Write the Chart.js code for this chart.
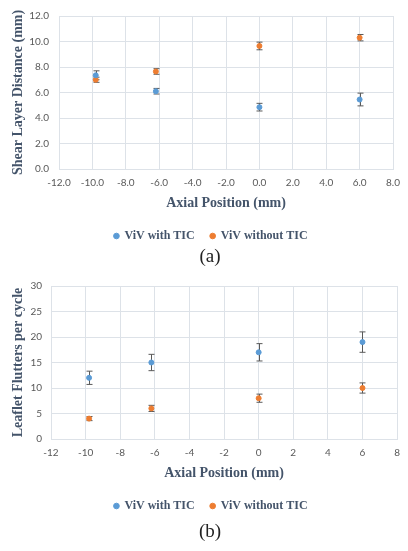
<!DOCTYPE html>
<html>
<head>
<meta charset="utf-8">
<script src="https://cdn.jsdelivr.net/npm/chart.js@4/dist/chart.umd.min.js"></script>
<style>
  body { margin: 0; background: #fff; width: 408px; height: 551px; position: relative; overflow: hidden; }
  canvas { position: absolute; left: 0; }
  .caption { position: absolute; left: 0; width: 420px; text-align: center; font-family: "Liberation Serif", "Times New Roman", serif; font-size: 19px; color: #222; }
</style>
</head>
<body>
<canvas id="shearChart" width="408" height="252" style="top:0"></canvas>
<div class="caption" style="top:245px">(a)</div>
<canvas id="flutterChart" width="408" height="252" style="top:270px"></canvas>
<div class="caption" style="top:520px">(b)</div>
<script>
// axial positions (mm)
const axialPos = [-9.8, -6.2, 0, 6];

// (a) shear layer distance (mm)
const shearWithTIC = [7.35, 6.1, 4.85, 5.45];
const shearWithTICErr = [0.35, 0.22, 0.3, 0.5];
const shearWithoutTIC = [7.0, 7.65, 9.65, 10.3];
const shearWithoutTICErr = [0.2, 0.22, 0.3, 0.25];

// (b) leaflet flutters per cycle
const flutterWithTIC = [12, 15, 17, 19];
const flutterWithTICErr = [1.3, 1.6, 1.7, 2.0];
const flutterWithoutTIC = [4, 6, 8, 10];
const flutterWithoutTICErr = [0.4, 0.6, 0.8, 1.0];

const seriesNames = ['ViV with TIC', 'ViV without TIC'];
const blue = '#5b9bd5';
const orange = '#ed7d31';
const titleColor = '#44546a';
const tickColor = '#595959';
const gridColor = '#dde2e8';
const serif = '"Liberation Serif", "Times New Roman", serif';

// draws vertical error bars with caps, using the chart's own scales
const errorBars = {
  id: 'errorBars',
  beforeDatasetsDraw(chart) {
    const ctx = chart.ctx;
    const xs = chart.scales.x, ys = chart.scales.y;
    ctx.save();
    ctx.strokeStyle = '#595959';
    ctx.lineWidth = 1;
    chart.data.datasets.forEach(ds => {
      ds.data.forEach((p, i) => {
        const e = ds.errors[i];
        const x = Math.round(xs.getPixelForValue(p.x)) + 0.5;
        const y1 = ys.getPixelForValue(p.y + e);
        const y2 = ys.getPixelForValue(p.y - e);
        ctx.beginPath();
        ctx.moveTo(x, y1); ctx.lineTo(x, y2);
        ctx.moveTo(x - 3, y1); ctx.lineTo(x + 3, y1);
        ctx.moveTo(x - 3, y2); ctx.lineTo(x + 3, y2);
        ctx.stroke();
      });
    });
    ctx.restore();
  }
};

function points(ys) {
  return axialPos.map((x, i) => ({ x: x, y: ys[i] }));
}

function makeChart(id, cfg) {
  return new Chart(document.getElementById(id), {
    type: 'scatter',
    data: {
      datasets: [{
        label: seriesNames[0],
        data: points(cfg.withTIC),
        errors: cfg.withTICErr,
        backgroundColor: blue,
        borderColor: blue,
        pointRadius: 2.5
      }, {
        label: seriesNames[1],
        data: points(cfg.withoutTIC),
        errors: cfg.withoutTICErr,
        backgroundColor: orange,
        borderColor: orange,
        pointRadius: 2.5
      }]
    },
    plugins: [errorBars],
    options: {
      responsive: false,
      animation: false,
      // the wide left padding centres the legend like the original
      layout: { padding: { top: cfg.padTop, right: 8, left: 22, bottom: 0 } },
      plugins: {
        tooltip: { enabled: false },
        legend: {
          position: 'bottom',
          labels: {
            usePointStyle: true,
            pointStyle: 'circle',
            boxWidth: 4,
            boxHeight: 4,
            padding: 16,
            color: titleColor,
            font: { family: serif, size: 12, weight: 'bold' }
          }
        }
      },
      scales: {
        x: {
          min: -12, max: 8,
          ticks: {
            stepSize: 2,
            padding: 8,
            color: tickColor,
            font: { family: 'Lato, "Liberation Sans", sans-serif', size: 10 },
            callback: v => cfg.decimals ? v.toFixed(1) : v
          },
          grid: { color: gridColor, drawTicks: false },
          border: { color: gridColor },
          title: {
            display: true,
            text: 'Axial Position (mm)',
            color: titleColor,
            padding: { top: 0, bottom: 2 },
            font: { family: serif, size: 14, weight: 'bold' }
          },
          afterFit: s => { s.height = 45; }
        },
        y: {
          min: 0, max: cfg.yMax,
          ticks: {
            stepSize: cfg.yStep,
            padding: cfg.yTickPad,
            color: tickColor,
            font: { family: 'Lato, "Liberation Sans", sans-serif', size: 10 },
            callback: v => cfg.decimals ? v.toFixed(1) : v
          },
          grid: { color: gridColor, drawTicks: false },
          border: { color: gridColor },
          title: {
            display: true,
            text: cfg.yTitle,
            color: titleColor,
            padding: { top: -12, bottom: 0 },
            font: { family: serif, size: 14, weight: 'bold' }
          },
          afterFit: s => { s.width = cfg.yWidth; }
        }
      }
    }
  });
}

makeChart('shearChart', {
  withTIC: shearWithTIC, withTICErr: shearWithTICErr,
  withoutTIC: shearWithoutTIC, withoutTICErr: shearWithoutTICErr,
  yMax: 12, yStep: 2, decimals: true,
  yTitle: 'Shear Layer Distance (mm)',
  yWidth: 37, yTickPad: 10, padTop: 13
});

makeChart('flutterChart', {
  withTIC: flutterWithTIC, withTICErr: flutterWithTICErr,
  withoutTIC: flutterWithoutTIC, withoutTICErr: flutterWithoutTICErr,
  yMax: 30, yStep: 5, decimals: false,
  yTitle: 'Leaflet Flutters per cycle',
  yWidth: 29, yTickPad: 9, padTop: 16
});
</script>
</body>
</html>
